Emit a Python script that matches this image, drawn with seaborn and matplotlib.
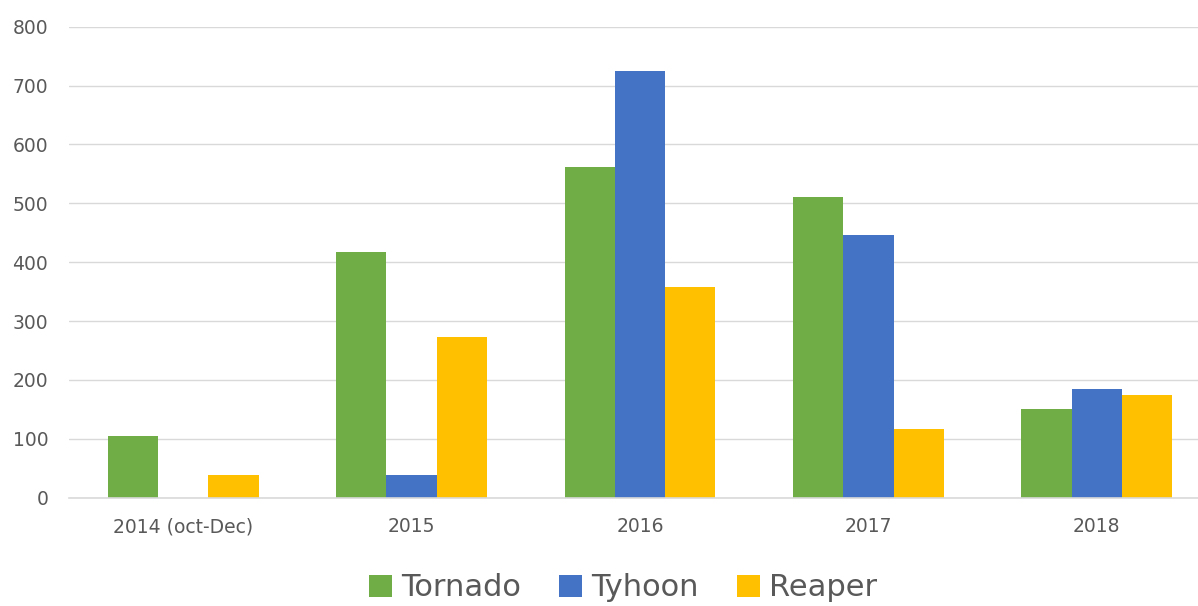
import matplotlib
matplotlib.use("Agg")
import matplotlib.pyplot as plt
import seaborn as sns
import pandas as pd

categories = ["2014 (oct-Dec)", "2015", "2016", "2017", "2018"]
tornado = [104, 417, 562, 511, 151]
tyhoon = [0, 39, 725, 447, 185]
reaper = [39, 273, 358, 117, 174]
series_names = ["Tornado", "Tyhoon", "Reaper"]
colors = ["#70AD47", "#4472C4", "#FFC000"]

rows = []
for name, vals in zip(series_names, [tornado, tyhoon, reaper]):
    for c, v in zip(categories, vals):
        rows.append({"Year": c, "Series": name, "Value": v})
df = pd.DataFrame(rows)

sns.set_theme(style="white")
plt.rcParams['font.family'] = ['DejaVu Sans']

fig = plt.figure(figsize=(11.98, 6.06), dpi=100)
ax = fig.add_axes([69/1198, 108.3/606, 1 - 69/1198, 471/606])

sns.barplot(data=df, x="Year", y="Value", hue="Series", order=categories,
            hue_order=series_names, palette=colors, width=0.66, gap=0,
            saturation=1, ax=ax, legend=True, linewidth=0, edgecolor="none")

ax.set_ylim(0, 800)
ax.set_xlim(-0.5, 4.443)
ax.set_yticks(range(0, 801, 100))
ax.yaxis.grid(True, color="#d9d9d9", linewidth=1.0)
ax.set_axisbelow(True)
for s in ax.spines.values():
    s.set_visible(False)
ax.spines["bottom"].set_visible(True)
ax.spines["bottom"].set_color("#d9d9d9")
ax.spines["bottom"].set_linewidth(1.2)
ax.set_xlabel("")
ax.set_ylabel("")
ax.tick_params(axis="y", length=0, labelsize=13.5, colors="#595959", pad=15)
ax.tick_params(axis="x", length=0, labelsize=13.5, colors="#595959", pad=14)

handles, labels = ax.get_legend_handles_labels()
ax.legend_.remove()
fig.legend(handles, labels, loc="center", bbox_to_anchor=(0.520, 1 - 588/606),
           ncol=3, frameon=False, fontsize=22, handlelength=0.75, handleheight=0.75,
           handletextpad=0.3, columnspacing=1.25, labelcolor="#595959")

fig.savefig("out.png", dpi=100)
